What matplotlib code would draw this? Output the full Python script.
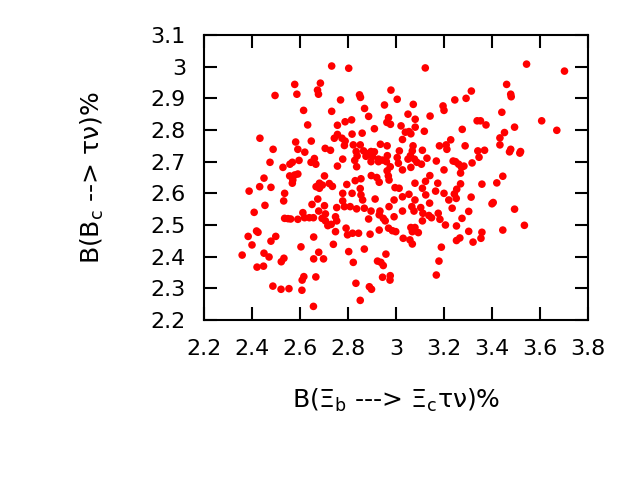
import matplotlib
matplotlib.use("Agg")
import matplotlib.pyplot as plt
import numpy as np

# B(Xi_b -> Xi_c tau nu) % values
x_vals = [
    2.496, 2.578, 2.587, 2.685, 2.673, 2.677, 2.615, 2.632, 2.433, 2.582, 2.647, 2.488,
    2.591, 2.620, 2.705, 2.475, 2.529, 2.558, 2.568, 2.596, 2.646, 2.660, 2.666,
    2.732, 2.803, 3.122, 2.979, 2.848, 2.852, 2.769, 3.005, 2.952, 3.072, 3.196, 3.200,
    2.869, 2.732, 2.886, 3.050, 2.969, 3.142, 3.080, 2.788, 2.815, 2.962, 2.977, 2.756,
    3.021, 3.080, 2.910, 3.039, 3.054, 3.062, 3.118, 2.859, 2.817, 2.756, 2.743, 2.775,
    2.788, 3.027, 3.228, 2.785, 2.822, 2.851, 2.935, 2.963, 3.071, 3.181, 3.209, 3.212,
    2.727, 2.834, 2.865, 2.882, 2.896, 2.910, 3.014, 3.068, 3.110, 2.838, 2.875, 2.902,
    2.927, 2.964, 3.060, 3.077, 3.005, 3.050, 3.129, 2.778, 2.828, 2.896, 2.927, 2.944,
    2.960, 2.976, 3.010, 3.087, 3.106, 3.168, 3.238, 2.756, 2.836, 3.027, 3.062, 3.200,
    3.141, 2.897, 2.920, 2.963, 2.968, 2.854, 2.830, 3.123,
    3.544, 3.702, 3.461, 3.478, 3.480, 3.314, 3.292, 3.245, 3.441, 3.607, 3.338, 3.352,
    3.375, 3.494, 3.276, 3.670, 3.452, 3.433, 3.433, 3.288, 3.341, 3.369, 3.478, 3.473,
    3.519, 3.516, 3.346, 3.317, 3.248, 3.261, 3.283, 3.273, 3.269, 3.445,
    2.450, 2.557, 2.578, 2.591, 2.570, 2.568, 2.702, 2.681, 2.722, 2.735, 2.667, 2.681,
    2.693, 2.388, 2.432, 2.479, 2.536, 2.532, 2.454, 2.409, 2.536, 2.550, 2.561, 2.591,
    2.619, 2.639, 2.656, 2.692, 2.706, 2.706, 2.612, 2.650, 2.674, 2.678, 2.702, 2.716,
    2.384, 2.419, 2.425, 2.400, 2.499, 2.479, 2.450, 2.471, 2.359, 2.604, 2.657, 2.678,
    2.657, 2.698, 2.533, 2.522, 2.421, 2.448, 2.616, 2.609, 2.666, 2.487, 2.521, 2.554,
    2.608, 2.656,
    2.795, 2.778, 2.817, 2.851, 2.778, 2.785, 2.809, 2.753, 2.836, 2.748, 2.753, 2.730,
    2.748, 2.792, 2.798, 2.819, 2.844, 2.739, 2.803, 2.822, 2.833, 2.930, 2.971, 3.079,
    3.174, 2.996, 3.013, 3.054, 3.027, 2.854, 2.861, 2.913, 2.992, 2.971, 3.079, 3.110,
    3.124, 3.165, 3.200, 3.220, 2.868, 2.896, 2.933, 2.930, 2.947, 2.955, 3.027, 3.066,
    3.075, 3.103, 3.112, 3.140, 3.137, 3.148, 3.176, 3.183, 3.234, 2.886, 2.992, 3.110,
    3.206, 2.892, 2.930, 2.969, 2.985, 2.999, 3.030, 3.062, 3.079, 3.068, 3.093, 3.058,
    3.068, 2.868, 2.958, 3.189, 2.923, 2.937, 2.947, 3.179, 3.168, 2.944, 2.976, 2.975,
    2.889, 2.898, 2.851,
    3.269, 3.358, 3.420, 3.253, 3.243, 3.251, 3.313, 3.400, 3.405, 3.494, 3.303, 3.275,
    3.252, 3.535, 3.445, 3.303, 3.358, 3.266, 3.252, 3.321, 3.354,
]

# B(B_c -> tau nu) % values
y_vals = [
    2.909, 2.944, 2.913, 2.948, 2.926, 2.913, 2.862, 2.816, 2.774, 2.762, 2.765, 2.739,
    2.739, 2.730, 2.742, 2.698, 2.682, 2.692, 2.698, 2.704, 2.698, 2.710, 2.692,
    3.002, 2.995, 2.996, 2.926, 2.911, 2.903, 2.895, 2.897, 2.879, 2.881, 2.876, 2.862,
    2.868, 2.859, 2.843, 2.850, 2.839, 2.844, 2.834, 2.826, 2.832, 2.824, 2.818, 2.815,
    2.813, 2.809, 2.804, 2.793, 2.795, 2.788, 2.796, 2.790, 2.787, 2.786, 2.774, 2.774,
    2.765, 2.770, 2.769, 2.751, 2.753, 2.753, 2.755, 2.750, 2.750, 2.750, 2.753, 2.739,
    2.736, 2.732, 2.734, 2.725, 2.732, 2.731, 2.734, 2.734, 2.736, 2.718, 2.717, 2.716,
    2.708, 2.719, 2.719, 2.708, 2.713, 2.708, 2.711, 2.708, 2.704, 2.700, 2.700, 2.705,
    2.700, 2.684, 2.695, 2.698, 2.692, 2.702, 2.702, 2.686, 2.684, 2.674, 2.682, 2.674,
    2.656, 2.656, 2.650, 2.671, 2.655, 2.646, 2.640, 2.638,
    3.008, 2.986, 2.944, 2.913, 2.905, 2.923, 2.900, 2.895, 2.856, 2.829, 2.829, 2.829,
    2.816, 2.809, 2.802, 2.799, 2.792, 2.775, 2.753, 2.750, 2.734, 2.736, 2.739, 2.731,
    2.732, 2.727, 2.714, 2.696, 2.700, 2.692, 2.686, 2.682, 2.664, 2.654,
    2.648, 2.655, 2.658, 2.661, 2.642, 2.632, 2.655, 2.632, 2.631, 2.622, 2.621, 2.616,
    2.626, 2.607, 2.621, 2.619, 2.600, 2.576, 2.562, 2.540, 2.521, 2.520, 2.519, 2.518,
    2.523, 2.523, 2.523, 2.521, 2.513, 2.535, 2.539, 2.565, 2.582, 2.544, 2.561, 2.498,
    2.464, 2.481, 2.477, 2.437, 2.464, 2.449, 2.411, 2.399, 2.405, 2.431, 2.462, 2.414,
    2.393, 2.393, 2.395, 2.384, 2.367, 2.370, 2.337, 2.326, 2.336, 2.307, 2.297, 2.299,
    2.294, 2.243,
    2.628, 2.600, 2.600, 2.615, 2.576, 2.558, 2.558, 2.555, 2.551, 2.526, 2.513, 2.502,
    2.479, 2.490, 2.469, 2.474, 2.474, 2.439, 2.416, 2.382, 2.316, 2.635, 2.642, 2.632,
    2.632, 2.618, 2.616, 2.597, 2.589, 2.595, 2.579, 2.582, 2.579, 2.558, 2.579, 2.616,
    2.595, 2.607, 2.600, 2.579, 2.553, 2.544, 2.544, 2.532, 2.521, 2.513, 2.544, 2.558,
    2.544, 2.555, 2.537, 2.569, 2.530, 2.523, 2.537, 2.518, 2.553, 2.519, 2.526, 2.513,
    2.500, 2.471, 2.484, 2.490, 2.482, 2.479, 2.458, 2.492, 2.492, 2.479, 2.476, 2.453,
    2.440, 2.424, 2.408, 2.430, 2.386, 2.382, 2.372, 2.386, 2.342, 2.335, 2.340, 2.326,
    2.305, 2.297, 2.262,
    2.630, 2.629, 2.633, 2.613, 2.598, 2.584, 2.588, 2.567, 2.571, 2.550, 2.543, 2.521,
    2.497, 2.499, 2.484, 2.480, 2.477, 2.459, 2.451, 2.446, 2.458,
]

x_ticks = [2.2, 2.4, 2.6, 2.8, 3.0, 3.2, 3.4, 3.6, 3.8]
x_tick_labels = ["2.2", "2.4", "2.6", "2.8", "3", "3.2", "3.4", "3.6", "3.8"]
y_ticks = [2.2, 2.3, 2.4, 2.5, 2.6, 2.7, 2.8, 2.9, 3.0, 3.1]
y_tick_labels = ["2.2", "2.3", "2.4", "2.5", "2.6", "2.7", "2.8", "2.9", "3", "3.1"]

plt.rcParams['font.family'] = ['DejaVu Sans']
plt.rcParams['mathtext.fontset'] = 'dejavusans'

fig = plt.figure(figsize=(6.4, 4.8), dpi=100)
ax = fig.add_axes([204/640, 1 - 320/480, (588 - 204)/640, (320 - 35)/480])

ax.scatter(x_vals, y_vals, s=30, color='#ff0000', edgecolors='none', zorder=3)

ax.set_xlim(2.2, 3.8)
ax.set_ylim(2.2, 3.1)
ax.set_xticks(x_ticks)
ax.set_xticklabels(x_tick_labels)
ax.set_yticks(y_ticks)
ax.set_yticklabels(y_tick_labels)

for sp in ax.spines.values():
    sp.set_linewidth(1.5)

ax.tick_params(axis='both', direction='in', length=9.5, width=1.5,
               top=True, right=True, labelsize=16)
ax.tick_params(axis='x', pad=14)
ax.tick_params(axis='y', pad=13)

ax.set_xlabel(r"B($\Xi_{\mathrm{b}}$ ---> $\Xi_{\mathrm{c}}$τν)%", fontsize=18, labelpad=20)
ax.set_ylabel(r"B(B$_{\mathrm{c}}$ --> τν)%", fontsize=18, labelpad=32)

fig.savefig("out.png", dpi=100)
